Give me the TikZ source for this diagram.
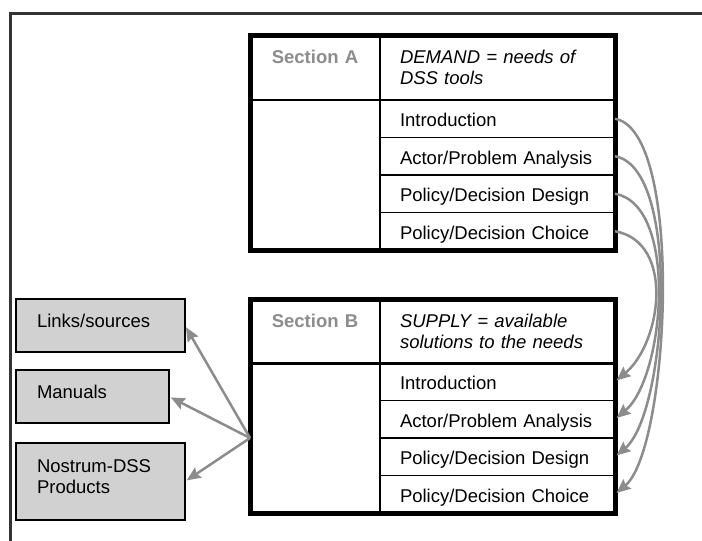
\documentclass[tikz,border=0pt]{standalone}
\usepackage{fontspec}
\setmainfont{Liberation Sans}
\usetikzlibrary{arrows.meta}

\newcommand{\diagfont}{\fontsize{18.5}{21}\selectfont}
\newcommand{\lowstrut}{\rule[-10pt]{0pt}{10pt}}

\tikzset{
  cell/.style={draw, line width=1.5pt, anchor=north west, outer sep=0pt, inner ysep=0pt},
  sechead/.style={cell, text width=122pt, inner xsep=4pt, minimum height=65pt, align=center, text=black!45, font=\diagfont\bfseries},
  secdesc/.style={cell, text width=195pt, inner xsep=20pt, minimum height=65pt, align=left, font=\diagfont\itshape},
  secbody/.style={cell, minimum width=130pt, minimum height=150pt},
  topic/.style={cell, text width=195pt, inner xsep=20pt, minimum height=37.5pt, align=left, text height=16pt, text depth=0pt},
  frame/.style={line width=5pt},
  resource/.style={draw, line width=2pt, fill=black!18, anchor=north west, outer sep=0pt, inner xsep=21pt, inner ysep=0pt, minimum height=53pt, align=left},
  feed/.style={draw=black!45, line width=2.5pt, -{Stealth[length=14pt,width=12pt,inset=2pt]}, shorten >=2pt}
}

\begin{document}
\begin{tikzpicture}[x=1pt, y=-1pt, font=\diagfont]
\useasboundingbox (0,0) rectangle (702,541);
\draw[line width=3pt, black!80] (702,13) -- (10,13) -- (10,541); % page frame

% Section A
\node[sechead] (ahead) at (250,35) {Section A\\\phantom{D}};
\node[secdesc] (adesc) at (380,35) {DEMAND = needs of\\DSS tools};
\node[secbody] (abody) at (250,100) {};
\node[topic] (aintro) at (380,100) {Introduction};
\node[topic] (aactor) at (380,137.5) {Actor/Problem Analysis};
\node[topic] (adesign) at (380,175) {Policy/Decision Design};
\node[topic] (achoice) at (380,212.5) {Policy/Decision Choice};
\draw[frame] (ahead.north west) rectangle (achoice.south east);

% Section B
\node[sechead] (bhead) at (250,299) {Section B\\\phantom{D}};
\node[secdesc] (bdesc) at (380,299) {SUPPLY = available\\solutions to the needs};
\node[secbody] (bbody) at (250,363) {};
\node[topic] (bintro) at (380,363) {Introduction};
\node[topic] (bactor) at (380,400.5) {Actor/Problem Analysis};
\node[topic] (bdesign) at (380,438) {Policy/Decision Design};
\node[topic] (bchoice) at (380,475.5) {Policy/Decision Choice};
\draw[frame] (bhead.north west) rectangle (bchoice.south east);

% resources
\node[resource, text width=127pt] (links) at (16,299) {Links/sources\lowstrut};
\node[resource, text width=111pt] (manuals) at (16,370) {Manuals\lowstrut};
\node[resource, text width=127pt, minimum height=77pt] (products) at (16,443) {Nostrum-DSS\\Products\lowstrut};

\draw[feed] (bbody.west) -- (links.east);
\draw[feed] (bbody.west) -- (manuals.east);
\draw[feed] (bbody.west) -- (products.east);

% demand to supply
\draw[feed] (aintro.east) to[out=-10, in=40, distance=71pt] (bchoice.east);
\draw[feed] (aactor.east) to[out=-10, in=40, distance=68pt] (bdesign.east);
\draw[feed] (adesign.east) to[out=-10, in=40, distance=65pt] (bactor.east);
\draw[feed] (achoice.east) to[out=-10, in=40, distance=61pt] (bintro.east);
\end{tikzpicture}
\end{document}
